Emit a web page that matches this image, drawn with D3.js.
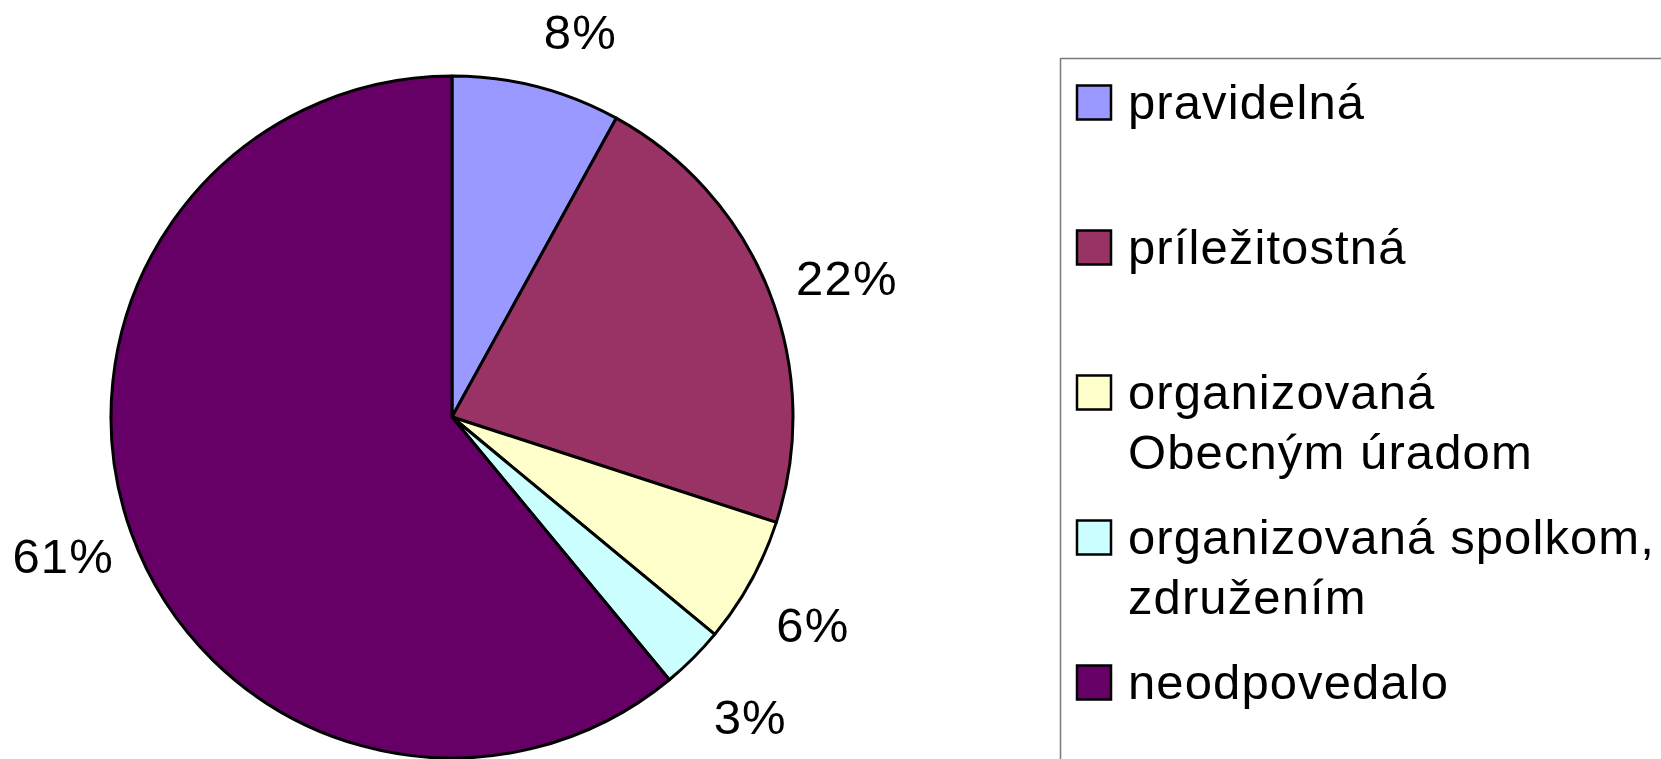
<!DOCTYPE html>
<html>
<head>
<meta charset="utf-8">
<script src="https://cdn.jsdelivr.net/npm/d3@7"></script>
<style>
  html, body { margin: 0; padding: 0; background: #fff; }
  svg { display: block; }
  text { font-family: "Liberation Sans", Arial, sans-serif; }
</style>
</head>
<body>
<svg id="chart" width="1661" height="759"></svg>
<script>
// Survey answers (percent of respondents)
const categories = [
  "pravidelná",
  "príležitostná",
  "organizovaná Obecným úradom",
  "organizovaná spolkom, združením",
  "neodpovedalo"
];
const values = [8, 22, 6, 3, 61];
const colors = ["#9999FF", "#993366", "#FFFFCC", "#CCFFFF", "#660066"];
// Legend entries, broken into lines as they are drawn
const legendLines = [
  ["pravidelná"],
  ["príležitostná"],
  ["organizovaná", "Obecným úradom"],
  ["organizovaná spolkom,", "združením"],
  ["neodpovedalo"]
];

const svg = d3.select("#chart");
const cx = 452, cy = 417, radius = 341;
const fontSize = 49;
const capH = 35;

const data = categories.map((c, i) => ({ name: c, value: values[i], color: colors[i], lines: legendLines[i] }));

const pie = d3.pie().value(d => d.value).sort(null);
const arc = d3.arc().innerRadius(0).outerRadius(radius);
const arcs = pie(data);

const g = svg.append("g").attr("transform", `translate(${cx},${cy})`);

g.selectAll("path.slice")
  .data(arcs)
  .enter().append("path")
  .attr("class", "slice")
  .attr("d", arc)
  .attr("fill", d => d.data.color)
  .attr("stroke", "#000")
  .attr("stroke-width", 3)
  .attr("stroke-linejoin", "round");

// Percentage labels outside each slice
const fmt = d => d3.format(".0%")(d.data.value / d3.sum(values));
const labelR = 370;
const clamp = v => Math.max(-1, Math.min(1, v));
g.selectAll("text.pct")
  .data(arcs)
  .enter().append("text")
  .attr("class", "pct")
  .attr("font-size", fontSize)
  .attr("letter-spacing", 1.2)
  .attr("fill", "#000")
  .attr("text-anchor", "middle")
  .text(fmt)
  .each(function(d) {
    const a = (d.startAngle + d.endAngle) / 2;
    const s = Math.sin(a), c = Math.cos(a);
    const w = this.getComputedTextLength();
    const x = labelR * s + (w / 2) * clamp(4 * s) * (s < 0 ? 0.8 : 1);
    const y = -labelR * c + capH * 0.3 - capH * 1.1 * c - (s < 0 ? 10 : 0);
    d3.select(this).attr("x", x).attr("y", y + capH / 2);
  });

// Legend
const legend = svg.append("g");
legend.append("rect")
  .attr("x", 1060.5).attr("y", 58.5)
  .attr("width", 700).attr("height", 800)
  .attr("fill", "#fff")
  .attr("stroke", "#7a7a7a")
  .attr("stroke-width", 1.5);

const rowStep = 145, firstTop = 85, sw = 34;
const rows = legend.selectAll("g.row")
  .data(data)
  .enter().append("g")
  .attr("class", "row")
  .attr("transform", (d, i) => `translate(0,${firstTop + i * rowStep})`);

rows.append("rect")
  .attr("x", 1077).attr("y", 0.5)
  .attr("width", sw).attr("height", sw)
  .attr("fill", d => d.color)
  .attr("stroke", "#000")
  .attr("stroke-width", 2.5);

rows.append("text")
  .attr("font-size", fontSize)
  .attr("letter-spacing", 1.1)
  .attr("fill", "#000")
  .each(function(d) {
    d3.select(this).selectAll("tspan")
      .data(d.lines)
      .enter().append("tspan")
      .attr("x", 1128)
      .attr("y", (l, j) => 34 + j * 60)
      .text(l => l);
  });
</script>
</body>
</html>
